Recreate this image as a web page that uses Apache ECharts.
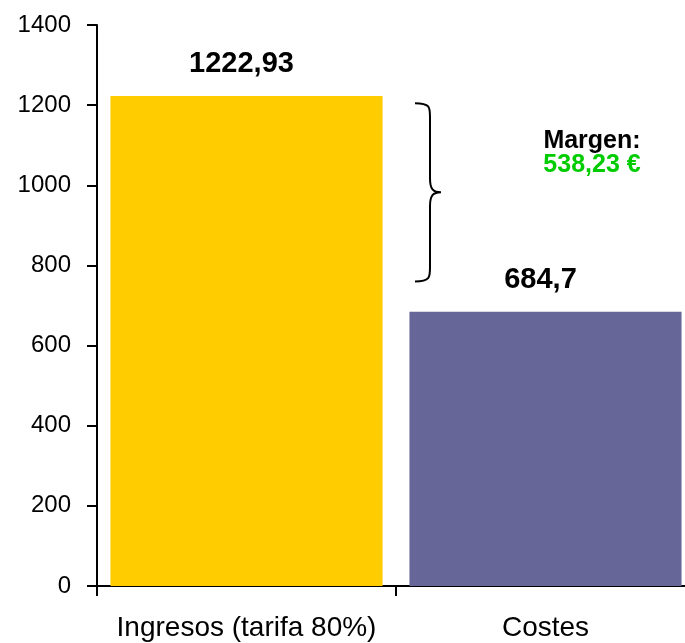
<!DOCTYPE html>
<html>
<head>
<meta charset="utf-8">
<script src="https://cdn.jsdelivr.net/npm/echarts@6/dist/echarts.min.js"></script>
<style>
html,body{margin:0;padding:0;background:#fff;overflow:hidden;}
#chart{width:685px;height:643px;}
</style>
</head>
<body>
<div id="chart"></div>
<script>
const categories = ['Ingresos (tarifa 80%)', 'Costes'];
const values = [1222.93, 684.7];
const barColors = ['#FFCC00', '#666699'];
const yTicks = [0, 1400, 200]; // min, max, interval
const braceRange = [1205, 760]; // brace ends (value units)
const marginTitle = 'Margen:';
const marginValue = '538,23 €';

const fmt = v => String(v).replace('.', ',');
const FONT = '"Liberation Sans", Arial, sans-serif';

const chart = echarts.init(document.getElementById('chart'), null, {renderer: 'canvas'});
chart.setOption({
  animation: false,
  backgroundColor: '#ffffff',
  grid: {left: 97, right: -10, top: 25, bottom: 57, containLabel: false, outerBoundsMode: 'none'},
  xAxis: {
    type: 'category',
    data: categories,
    axisLine: {lineStyle: {color: '#000', width: 2}},
    axisTick: {show: true, length: 10, lineStyle: {color: '#000', width: 2}, alignWithLabel: false},
    axisLabel: {color: '#000', fontFamily: FONT, fontSize: 28, margin: 28, interval: 0}
  },
  yAxis: {
    type: 'value',
    min: yTicks[0], max: yTicks[1], interval: yTicks[2],
    axisLine: {show: true, lineStyle: {color: '#000', width: 2}},
    axisTick: {show: true, length: 10, lineStyle: {color: '#000', width: 2}},
    splitLine: {show: false},
    axisLabel: {color: '#000', fontFamily: FONT, fontSize: 24, margin: 26, formatter: v => String(v)}
  },
  series: [
    {
      type: 'bar',
      data: values.map((v, i) => ({value: v, itemStyle: {color: barColors[i]}})),
      barCategoryGap: '9%',
      label: {
        show: true, position: 'top', distance: 17, offset: [-5, 0],
        formatter: p => fmt(p.value),
        color: '#000', fontFamily: FONT, fontWeight: 'bold', fontSize: 29
      }
    },
    {
      type: 'custom',
      silent: true,
      data: [[1, braceRange[0], braceRange[1]]],
      renderItem: function (params, api) {
        const top = api.coord([api.value(0), api.value(1)]);
        const bot = api.coord([api.value(0), api.value(2)]);
        const band = api.size([1, 0])[0];
        const bx = top[0] - band / 2;
        const x0 = bx + 19, x1 = bx + 34, x2 = bx + 45;
        const y0 = top[1], y2 = bot[1], ym = (y0 + y2) / 2;
        const r = 14;
        const d = 'M' + x0 + ' ' + y0 +
          ' C' + (x1) + ' ' + (y0) + ' ' + x1 + ' ' + (y0 + 4) + ' ' + x1 + ' ' + (y0 + r) +
          ' L' + x1 + ' ' + (ym - r) +
          ' C' + x1 + ' ' + (ym - 3) + ' ' + (x1 + 3) + ' ' + ym + ' ' + x2 + ' ' + ym +
          ' C' + (x1 + 3) + ' ' + ym + ' ' + x1 + ' ' + (ym + 3) + ' ' + x1 + ' ' + (ym + r) +
          ' L' + x1 + ' ' + (y2 - r) +
          ' C' + x1 + ' ' + (y2 - 4) + ' ' + x1 + ' ' + y2 + ' ' + x0 + ' ' + y2;
        return {
          type: 'group',
          children: [
            {type: 'path', shape: {pathData: d}, style: {fill: null, stroke: '#000', lineWidth: 2}},
            {type: 'text', style: {text: marginTitle, x: bx + 196, y: y0 + 38, align: 'center', verticalAlign: 'middle',
              fill: '#000', font: 'bold 25px ' + FONT}},
            {type: 'text', style: {text: marginValue, x: bx + 196, y: y0 + 62, align: 'center', verticalAlign: 'middle',
              fill: '#00CC00', font: 'bold 25px ' + FONT}}
          ]
        };
      }
    }
  ]
});
</script>
</body>
</html>
